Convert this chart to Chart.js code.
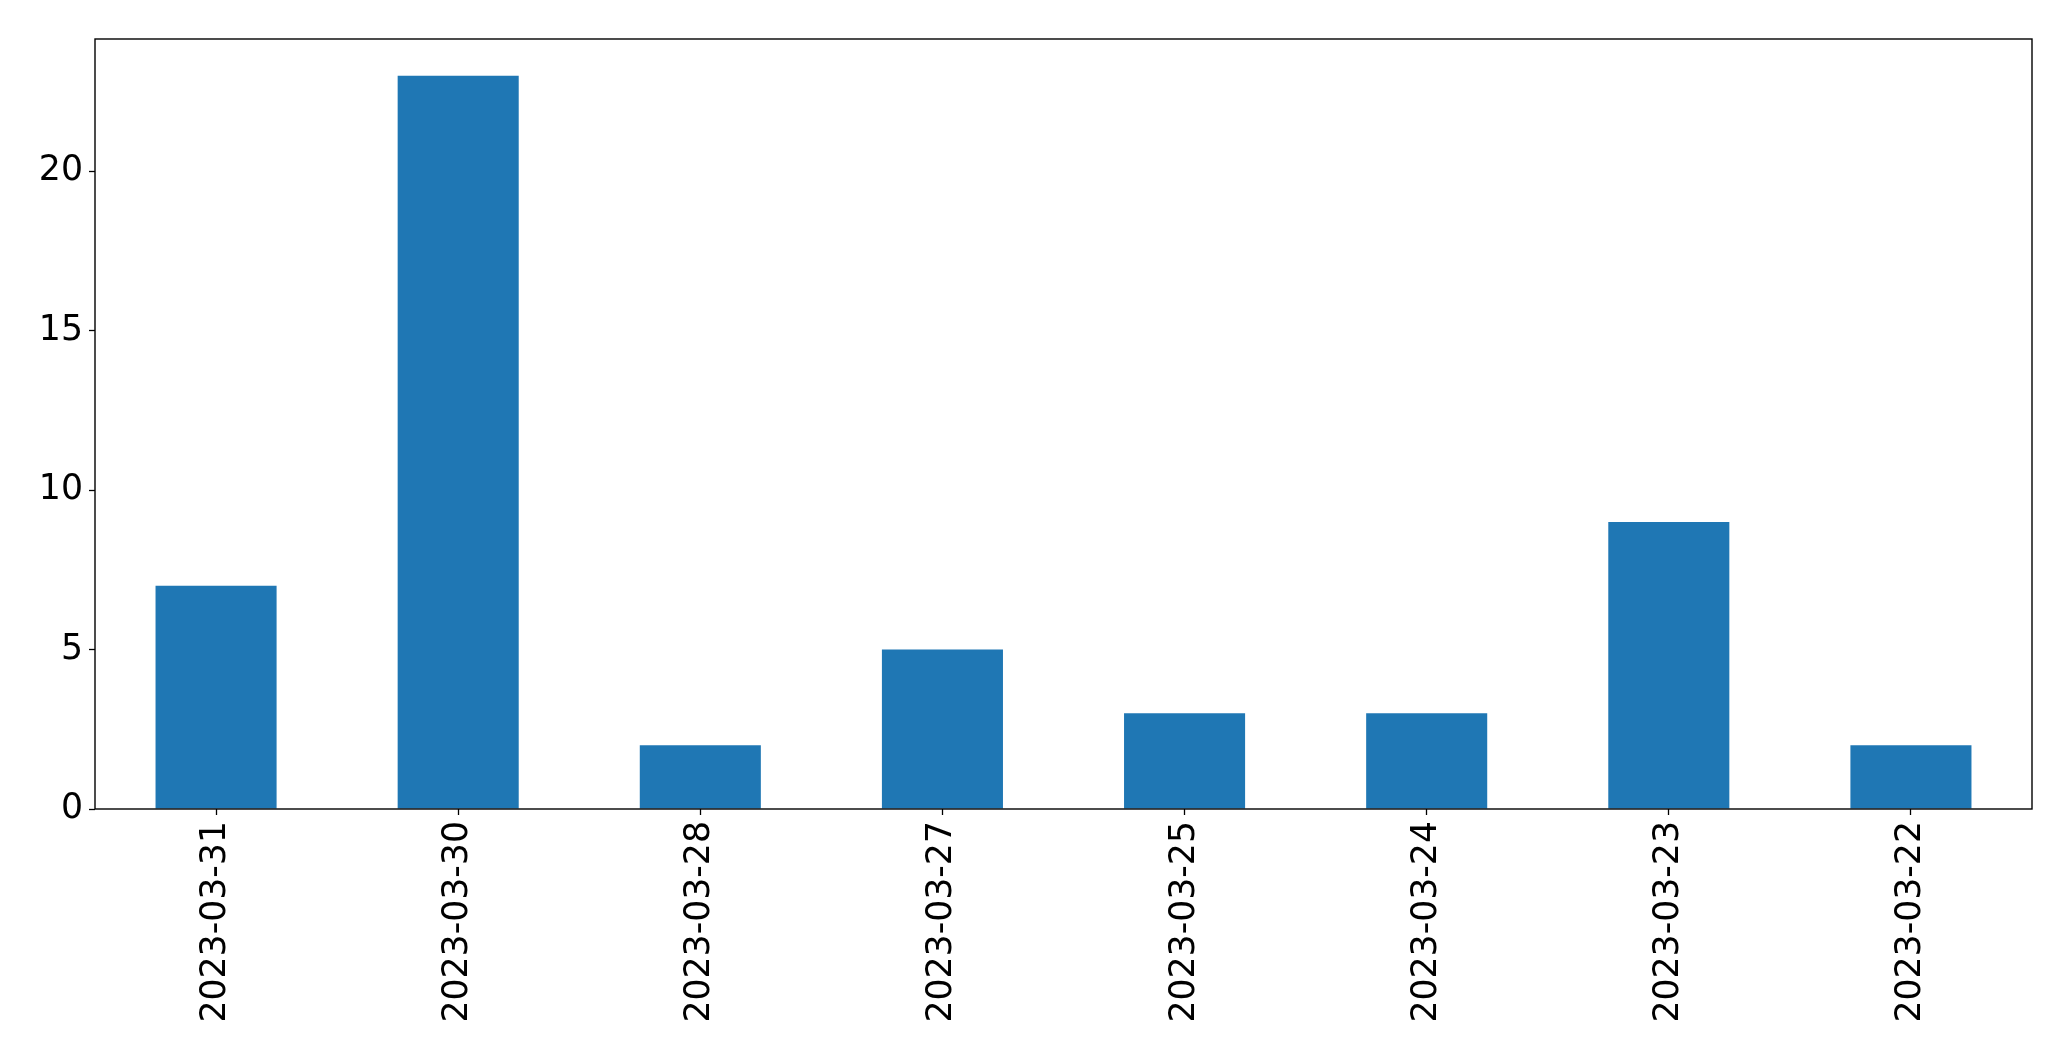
<!DOCTYPE html>
<html>
<head>
<meta charset="utf-8">
<script src="https://cdn.jsdelivr.net/npm/chart.js@4/dist/chart.umd.min.js"></script>
<style>
html,body{margin:0;padding:0;background:#fff;}
#wrap{width:2071px;height:1061px;}
</style>
</head>
<body>
<div id="wrap"><canvas id="c" width="2071" height="1061"></canvas></div>
<script>
const categories = ["2023-03-31","2023-03-30","2023-03-28","2023-03-27","2023-03-25","2023-03-24","2023-03-23","2023-03-22"];
const values = [7, 23, 2, 5, 3, 3, 9, 2];
const yTicks = [0, 5, 10, 15, 20];

const frame = {
  id: 'frame',
  afterDatasetsDraw(chart) {
    const a = chart.chartArea, ctx = chart.ctx;
    ctx.save();
    ctx.strokeStyle = '#000';
    ctx.lineWidth = 1.4;
    ctx.strokeRect(a.left, a.top, a.right - a.left, a.bottom - a.top);
    ctx.restore();
  }
};

new Chart(document.getElementById('c'), {
  type: 'bar',
  data: {
    labels: categories,
    datasets: [{
      data: values,
      backgroundColor: '#1f77b4',
      borderWidth: 0,
      barPercentage: 0.5,
      categoryPercentage: 1.0
    }]
  },
  options: {
    responsive: false,
    animation: false,
    devicePixelRatio: 1,
    layout: { padding: { left: 0, top: 39, right: 39, bottom: 0 } },
    plugins: { legend: { display: false }, tooltip: { enabled: false } },
    scales: {
      x: {
        offset: true,
        grid: { display: true, drawOnChartArea: false, offset: false, tickLength: 6, tickColor: '#000', tickWidth: 1.3 },
        border: { display: false },
        ticks: {
          color: '#000',
          font: { family: 'DejaVu Sans', size: 34.7 },
          maxRotation: 90, minRotation: 90,
          padding: 6,
          autoSkip: false
        },
        afterFit(s) { s.height = 252; }
      },
      y: {
        min: 0,
        max: 24.15,
        grid: { display: true, drawOnChartArea: false, tickLength: 6, tickColor: '#000', tickWidth: 1.3 },
        border: { display: false },
        afterBuildTicks(s) { s.ticks = yTicks.map(v => ({ value: v })); },
        ticks: {
          color: '#000',
          font: { family: 'DejaVu Sans', size: 34.7 },
          padding: 6
        },
        afterFit(s) { s.width = 95; }
      }
    }
  },
  plugins: [frame]
});
</script>
</body>
</html>
